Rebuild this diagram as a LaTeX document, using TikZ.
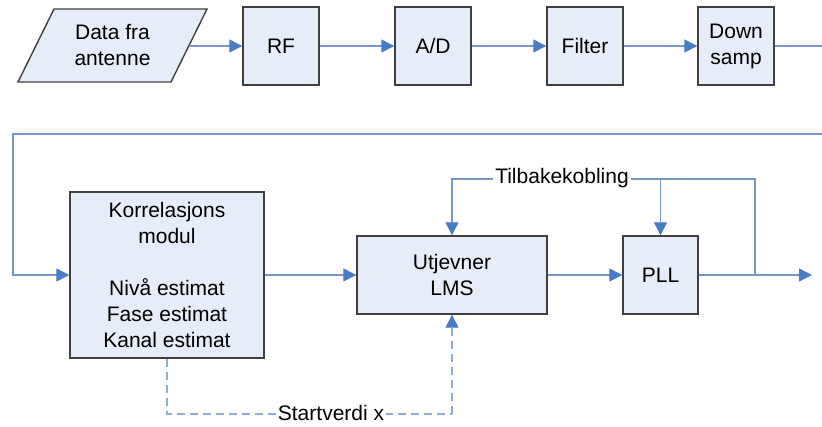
\documentclass[tikz,border=0pt]{standalone}
\usepackage{fontspec}
\setmainfont{Liberation Sans}
\usetikzlibrary{arrows.meta}
\definecolor{boxfill}{HTML}{E6ECF8}
\definecolor{boxline}{HTML}{404040}
\definecolor{wire}{HTML}{7496C8}
\definecolor{tipblue}{HTML}{4A7CC6}
\definecolor{dashwire}{HTML}{8FADDB}
\tikzset{
  outline/.style={draw=boxline, fill=boxfill, line width=1.4pt},
  block/.style={outline, inner sep=0pt,
    align=center, font=\fontsize{21}{26}\selectfont},
  wireline/.style={draw=wire, line width=1.3pt},
  flow/.style={wireline, -{Triangle[length=13pt,width=13pt,color=tipblue]}},
  dflow/.style={draw=dashwire, line width=1.3pt, dash pattern=on 8pt off 5pt,
    -{Triangle[length=13pt,width=13pt,color=tipblue]}},
  dline/.style={draw=dashwire, line width=1.3pt, dash pattern=on 8pt off 5pt},
  lbl/.style={fill=white, inner sep=2pt, font=\fontsize{21}{26}\selectfont},
}
\begin{document}
\begin{tikzpicture}[x=1pt, y=-1pt]
\useasboundingbox (0,0) rectangle (822,427);

% top row: receiver front end (input parallelogram drawn as a path)
\draw[outline] (54,9) -- (207,9) -- (171,82) -- (18,82) -- cycle;
\node[align=center, inner sep=0pt, font=\fontsize{21}{26}\selectfont]
      (ant) at (112.5,45.5) {Data fra\\antenne};
\coordinate (antE) at (189,46);
\node[block, minimum width=76pt, minimum height=78pt] (rf)   at (281,46) {RF};
\node[block, minimum width=76pt, minimum height=78pt] (ad)   at (433,46) {A/D};
\node[block, minimum width=76pt, minimum height=78pt] (filt) at (585,46) {Filter};
\node[block, minimum width=76pt, minimum height=78pt] (down) at (736,46) {Down\\samp};

\draw[flow] (antE) -- (rf.west);
\draw[flow] (rf.east) -- (ad.west);
\draw[flow] (ad.east) -- (filt.west);
\draw[flow] (filt.east) -- (down.west);

% bottom row: detection chain
\node[block, minimum width=194pt, minimum height=166pt] (korr) at (167,275)
  {Korrelasjons\\modul\\[26pt]Nivå estimat\\Fase estimat\\Kanal estimat};
\node[block, minimum width=190pt, minimum height=78pt] (utj) at (452,275) {Utjevner\\LMS};
\node[block, minimum width=75pt, minimum height=78pt] (pll) at (660.5,275) {PLL};

% wrap-around from the top row to the bottom row
\coordinate (topR) at (822,46);
\coordinate (retR) at (822,134);
\coordinate (retL) at (13,134);
\draw[wireline] (down.east) -- (topR);
\draw[flow] (retR) -- (retL) |- (korr.west);

\draw[flow] (korr.east |- utj.west) -- (utj.west);
\draw[flow] (utj.east) -- (pll.west);

% output and feedback
\coordinate (j) at (755,275);
\coordinate (out) at (812,275);
\coordinate (fbR) at (755,179);
\coordinate (fbL) at (452,179);
\draw[wireline] (pll.east) -- (j);
\draw[flow] (j) -- (out);
\draw[flow] (j) -- (fbR) -- (fbL) -- (utj.north);
\draw[flow] (pll.north |- fbR) -- (pll.north);
\node[lbl] (tb) at (562,178) {Tilbakekobling};

% initial value path (dashed)
\coordinate (sL) at (167,414);
\coordinate (sR) at (452,414);
\draw[dline] (korr.south) -- (sL) -- (sR);
\draw[dflow] (sR) -- (utj.south);
\node[lbl] (sv) at (331,413) {Startverdi x};
\end{tikzpicture}
\end{document}
